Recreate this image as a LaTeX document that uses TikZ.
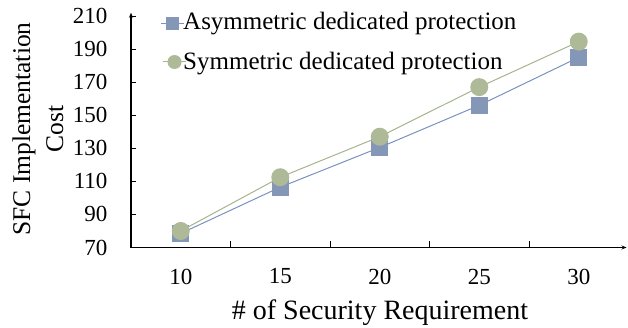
\documentclass[tikz,border=0pt]{standalone}
\usepackage{fontspec}
\setmainfont{Liberation Serif}
\usetikzlibrary{arrows.meta}
\definecolor{asymblue}{RGB}{132,151,182}
\definecolor{asymline}{RGB}{122,146,192}
\definecolor{symgreen}{RGB}{174,185,152}
\definecolor{symline}{RGB}{166,180,140}

\begin{document}
\begin{tikzpicture}[x=1pt,y=1pt,
    axis line/.style={line width=1.3pt,-{Stealth[length=5pt,width=4pt]}},
    tick line/.style={line width=1pt},
    sq node/.style={rectangle,fill=asymblue,inner sep=0pt,minimum size=17pt},
    ci node/.style={circle,fill=symgreen,inner sep=0pt,minimum size=18pt},
    num/.style={font=\fontsize{23}{23}\selectfont},
    key/.style={font=\fontsize{25}{25}\selectfont},
    title/.style={font=\fontsize{25.5}{33}\selectfont,align=center}]
  \useasboundingbox (0,0) rectangle (628,327);
  \begin{scope}[shift={(131,79.5)},x=99.5pt,y=1.6535pt]
    % axes
    \coordinate (o) at (0,0);
    \coordinate (xend) at (4.98,0);
    \coordinate (yend) at (0,142);
    \draw[axis line] (o) -- (xend);
    \draw[axis line] (o) -- (yend);
    \foreach \v in {70,90,...,210}{
      \draw[tick line] (0,\v-70) -- ++(5pt,0);
      \node[num,anchor=east] (ylab\v) at ([xshift=-20pt]0,\v-70) {\v};
    }
    \foreach \k in {1,...,4}
      \draw[tick line] (\k,0) -- ++(0,7pt);
    \foreach \k/\lab in {1/10,2/15,3/20,4/25,5/30}
      \node[num] (xlab\k) at ([yshift=-29pt]\k-0.5,0) {\lab};
    % data
    \foreach \k/\v in {1/78.5,2/106.5,3/130.5,4/156,5/185}
      \coordinate (a\k) at (\k-0.5,\v-70);
    \foreach \k/\v in {1/80,2/112.5,3/137,4/167,5/194.5}
      \coordinate (s\k) at (\k-0.5,\v-70);
    \draw[asymline,line width=1pt] (a1) -- (a2) -- (a3) -- (a4) -- (a5);
    \foreach \k in {1,...,5}
      \node[sq node] (asq\k) at (a\k) {};
    \draw[symline,line width=1pt] (s1) -- (s2) -- (s3) -- (s4) -- (s5);
    \foreach \k in {1,...,5}
      \node[ci node] (sci\k) at (s\k) {};
  \end{scope}
  % legend
  \coordinate (la) at (161,303);
  \coordinate (lb) at (184,303);
  \draw[asymline,line width=1pt] (la) -- (lb);
  \node[sq node,minimum size=13pt] (keya) at (172.5,303) {};
  \node[key,anchor=base west,inner sep=0pt] (texta) at (183,297) {Asymmetric dedicated protection};
  \coordinate (lc) at (163,265);
  \coordinate (ld) at (186,265);
  \draw[symline,line width=1pt] (lc) -- (ld);
  \node[ci node,minimum size=14pt] (keys) at (174.5,265) {};
  \node[key,anchor=base west,inner sep=0pt] (texts) at (183,257) {Symmetric dedicated protection};
  % titles
  \node[title,font=\fontsize{28}{28}\selectfont,anchor=base] (xtitle) at (380,8) {\# of Security Requirement};
  \node[title,rotate=90] (ytitle) at (38,198) {SFC Implementation\\Cost};
\end{tikzpicture}
\end{document}
